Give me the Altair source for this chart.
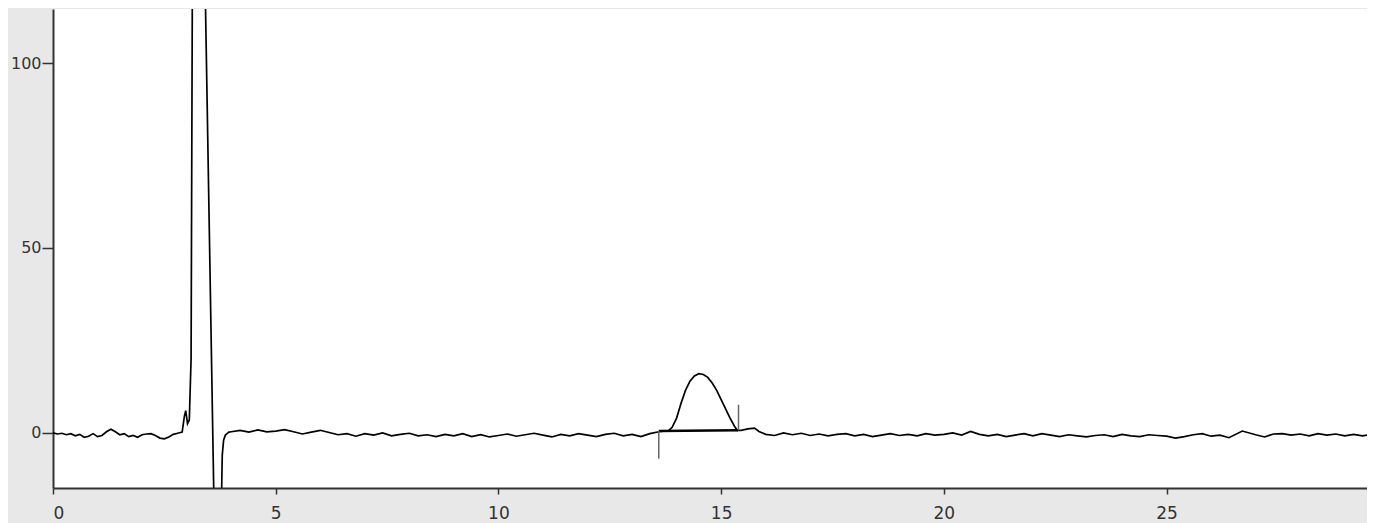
import altair as alt
import pandas as pd

# Chromatogram trace: time (min) and signal
time_min = [
    0.0, 0.1, 0.2, 0.3, 0.4, 0.5, 0.6, 0.7, 0.8, 0.9, 1.0, 1.1, 1.2, 1.3, 1.4, 1.5,
    1.6, 1.7, 1.8, 1.9, 2.0, 2.1, 2.2, 2.3, 2.4, 2.5, 2.6, 2.7, 2.8, 2.9,
    2.95, 2.98, 3.02, 3.06, 3.1, 3.13, 3.41, 3.615, 3.78, 3.8, 3.83, 3.87, 3.95,
    4.0, 4.2, 4.4, 4.6, 4.8, 5.0, 5.2, 5.4, 5.6, 5.8, 6.0, 6.2, 6.4, 6.6, 6.8,
    7.0, 7.2, 7.4, 7.6, 7.8, 8.0, 8.2, 8.4, 8.6, 8.8, 9.0, 9.2, 9.4, 9.6, 9.8,
    10.0, 10.2, 10.4, 10.6, 10.8, 11.0, 11.2, 11.4, 11.6, 11.8, 12.0, 12.2, 12.4,
    12.6, 12.8, 13.0, 13.2, 13.4, 13.6, 13.7, 13.82, 13.9, 14.0, 14.1, 14.2,
    14.3, 14.4, 14.5, 14.6, 14.7, 14.8, 14.9, 15.0, 15.1, 15.2, 15.3, 15.36,
    15.45, 15.6, 15.75, 15.85, 16.0, 16.2, 16.4, 16.6, 16.8, 17.0, 17.2, 17.4,
    17.6, 17.8, 18.0, 18.2, 18.4, 18.6, 18.8, 19.0, 19.2, 19.4, 19.6, 19.8,
    20.0, 20.2, 20.4, 20.6, 20.8, 21.0, 21.2, 21.4, 21.6, 21.8, 22.0, 22.2,
    22.4, 22.6, 22.8, 23.0, 23.2, 23.4, 23.6, 23.8, 24.0, 24.2, 24.4, 24.6,
    24.8, 25.0, 25.2, 25.4, 25.6, 25.8, 26.0, 26.2, 26.4, 26.7, 27.0, 27.2,
    27.4, 27.6, 27.8, 28.0, 28.2, 28.4, 28.6, 28.8, 29.0, 29.2, 29.4, 29.5,
]
signal = [
    0.0, -0.3, -0.1, -0.5, -0.2, -0.8, -0.4, -1.2, -0.9, -0.2, -1.0, -0.7, 0.3, 1.0, 0.3, -0.5,
    -0.2, -1.0, -0.7, -1.2, -0.5, -0.3, -0.2, -0.7, -1.4, -1.6, -1.1, -0.4, -0.1, 0.2,
    4.5, 6.0, 2.5, 3.5, 20.0, 125.0, 125.0, -20.0, -20.0, -6.0, -2.0, -0.6, 0.2,
    0.3, 0.7, 0.2, 0.8, 0.3, 0.5, 0.9, 0.3, -0.3, 0.2, 0.7, 0.1, -0.5, -0.2, -0.9,
    -0.2, -0.6, 0.0, -0.8, -0.4, -0.1, -0.8, -0.5, -1.0, -0.4, -0.8, -0.2, -1.0, -0.5, -1.1,
    -0.7, -0.3, -0.9, -0.5, -0.1, -0.6, -1.1, -0.4, -0.8, -0.2, -0.6, -1.0, -0.4,
    -0.1, -0.8, -0.4, -1.0, -0.2, 0.3, 0.5, 0.6, 1.5, 4.0, 8.0, 11.5,
    14.0, 15.4, 16.0, 15.8, 15.0, 13.5, 11.5, 9.0, 6.5, 4.0, 1.8, 0.7,
    0.7, 1.1, 1.3, 0.4, -0.4, -0.7, 0.0, -0.5, -0.1, -0.7, -0.3, -0.8,
    -0.4, -0.2, -0.8, -0.4, -1.0, -0.6, -0.2, -0.7, -0.4, -0.8, -0.2, -0.6,
    -0.4, 0.0, -0.6, 0.4, -0.4, -0.8, -0.4, -1.0, -0.6, -0.2, -0.8, -0.2,
    -0.6, -1.0, -0.5, -0.8, -1.1, -0.7, -0.5, -1.0, -0.4, -0.8, -1.0, -0.5,
    -0.7, -0.9, -1.4, -1.0, -0.5, -0.2, -0.9, -0.6, -1.3, 0.5, -0.5, -1.1,
    -0.3, -0.2, -0.6, -0.3, -0.8, -0.2, -0.6, -0.3, -0.8, -0.4, -0.8, -0.6,
]

# Integration baseline of the peak
base_t = [13.6]
base_t2 = [15.38]
base_y = [0.5]
base_y2 = [0.7]

# Peak start / end markers
marker_t = [13.6, 15.39]
marker_y = [0.5, 0.7]
marker_y2 = [-7.0, 7.6]

x_ticks = [0, 5, 10, 15, 20, 25]
y_ticks = [0, 50, 100]

df = pd.DataFrame({"t": time_min, "s": signal})
df_base = pd.DataFrame({"t": base_t, "t2": base_t2, "y": base_y, "y2": base_y2})
df_mark = pd.DataFrame({"t": marker_t, "y": marker_y, "y2": marker_y2})

FONT = "DejaVu Sans"
xscale = alt.Scale(domain=[0, 29.5], nice=False, zero=False)
yscale = alt.Scale(domain=[-14.9, 114.6], nice=False, zero=False)

xaxis = alt.Axis(values=x_ticks, grid=False, title=None, domainColor="#333333",
                 domainWidth=2, tickColor="#333333", tickWidth=1.5, tickSize=6,
                 labelFont=FONT, labelFontSize=17, labelColor="#333333",
                 labelPadding=11, format="d")
yaxis = alt.Axis(values=y_ticks, grid=False, title=None, domainColor="#333333",
                 domainWidth=2, tickColor="#333333", tickWidth=1.5, tickSize=11,
                 labelFont=FONT, labelFontSize=16, labelColor="#333333",
                 labelPadding=1, format="d")

line = alt.Chart(df).mark_line(clip=True, color="black", strokeWidth=1.7).encode(
    x=alt.X("t:Q", scale=xscale, axis=xaxis),
    y=alt.Y("s:Q", scale=yscale, axis=yaxis),
    order="t:Q",
)

base = alt.Chart(df_base).mark_rule(color="black", strokeWidth=2.4).encode(
    x=alt.X("t:Q", scale=xscale), x2="t2:Q",
    y=alt.Y("y:Q", scale=yscale), y2="y2:Q",
)

marks = alt.Chart(df_mark).mark_rule(color="#666666", strokeWidth=1.5).encode(
    x=alt.X("t:Q", scale=xscale),
    y=alt.Y("y:Q", scale=yscale), y2="y2:Q",
)

chart = alt.layer(line, base, marks).properties(
    width=1314, height=479,
    autosize=alt.AutoSizeParams(type="none"),
    padding={"left": 45, "top": 1, "right": 0, "bottom": 35},
    background="#e8e8e8",
).configure_view(fill="white", strokeWidth=0)

chart.save("out.html", embed_options={"renderer": "svg", "actions": False})
